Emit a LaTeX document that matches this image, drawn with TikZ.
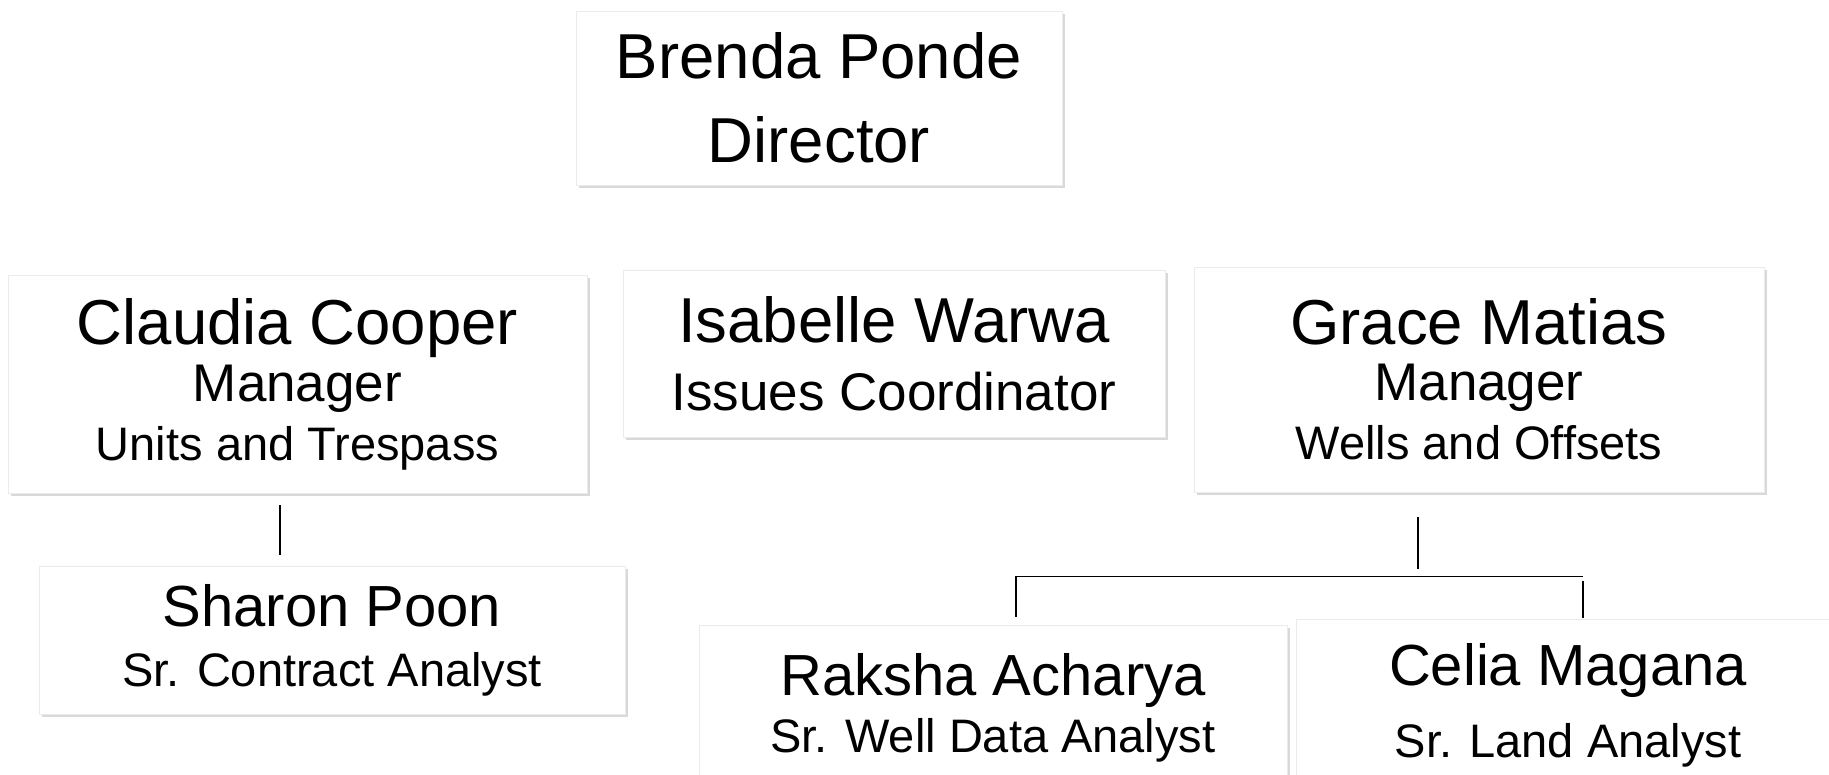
\documentclass[tikz,border=0pt]{standalone}
\usepackage{fontspec}
\setmainfont{Liberation Sans}
\usetikzlibrary{shadows, calc}
\newcommand{\sz}[1]{\fontsize{#1pt}{#1pt}\selectfont}

\begin{document}
\begin{tikzpicture}[x=1pt, y=-1pt,
    box/.style={rectangle, fill=white, draw=black!8, line width=0.6pt, inner sep=0pt,
        align=center, font={\sz{10}\lineskiplimit=-200pt},
        drop shadow={shadow xshift=2.5pt, shadow yshift=-3pt, opacity=0.3}},
    link/.style={line width=1.5pt}]
    \useasboundingbox (0, 0) rectangle (1829, 775);

    % top
    \node[box, minimum width=486pt, minimum height=174pt] (bp) at (819, 98)
        {{\sz{63.5}Brenda Ponde}\\[74pt]{\sz{63.5}Director}};

    % second row
    \node[box, minimum width=579pt, minimum height=218pt] (cc) at (297.5, 384)
        {{\sz{63.5}Claudia Cooper}\\[47pt]{\sz{53}Manager}\\[49pt]{\sz{47}Units and Trespass}};
    \node[box, minimum width=542pt, minimum height=167pt] (iw) at (894, 353.5)
        {{\sz{63.5}Isabelle Warwa}\\[58pt]{\sz{53}Issues Coordinator}};
    \node[box, minimum width=570pt, minimum height=225pt] (gm) at (1479, 379.5)
        {{\sz{63.5}Grace Matias}\\[46pt]{\sz{53}Manager}\\[49pt]{\sz{47}Wells and Offsets}};

    % third row
    \node[box, minimum width=586pt, minimum height=148pt] (sp) at (332, 640)
        {{\sz{58}Sharon Poon}\\[50pt]{\sz{47}Sr. Contract Analyst}};
    \node[box, minimum width=588pt, minimum height=165pt] (ra) at (993, 707.5)
        {{\sz{58}Raksha Acharya}\\[47pt]{\sz{47}Sr. Well Data Analyst}};
    \node[box, minimum width=544pt, minimum height=172pt] (cm) at (1568, 705)
        {{\sz{58}Celia Magana}\\[62pt]{\sz{47}Sr. Land Analyst}};

    % links
    \coordinate (bar-l) at ($(ra.north)+(23, -48)$);
    \coordinate (bar-r) at ($(cm.north)+(15, -42)$);
    \draw[link] ($(cc.south)+(-17.5, 12)$) -- ($(sp.north)+(-52, -11)$);
    \draw[link] ($(gm.south)+(-61, 25)$) -- ($(gm.south)+(-61, 77)$);
    \draw[link] (bar-r) -- (bar-l) -- ($(ra.north)+(23, -8)$);
    \draw[link] ($(cm.north)+(15, -38)$) -- ($(cm.north)+(15, -1)$);
\end{tikzpicture}
\end{document}
